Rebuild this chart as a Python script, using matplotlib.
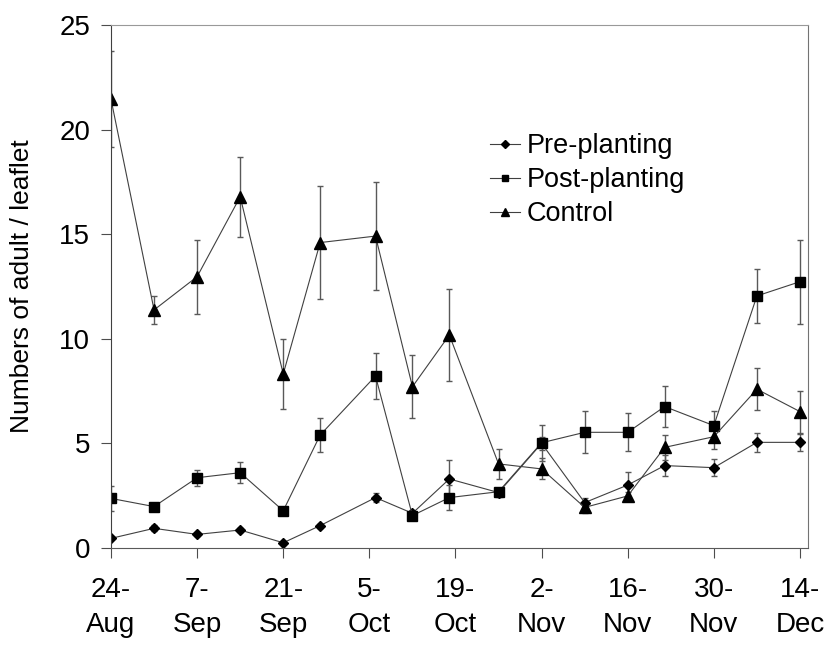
import matplotlib
matplotlib.use('Agg')
import matplotlib.pyplot as plt

plt.rcParams['font.family'] = ['Liberation Sans', 'DejaVu Sans']

# sampling days, counted from 24 Aug
sample_day = [0, 7, 14, 21, 28, 34, 43, 49, 55, 63, 70, 77, 84, 90, 98, 105, 112]

pre_mean = [0.46, 0.94, 0.65, 0.86, 0.25, 1.07, 2.41, 1.66, 3.30, 2.65, 5.0,
            2.17, 3.01, 3.94, 3.84, 5.05, 5.05]
pre_err = [0.05, 0.15, 0.08, 0.08, 0.05, 0.1, 0.2, 0.15, 0.9, 0.2, 0.3,
           0.2, 0.6, 0.5, 0.4, 0.45, 0.4]

post_mean = [2.37, 1.98, 3.36, 3.60, 1.78, 5.40, 8.22, 1.55, 2.41, 2.69, 5.03,
             5.53, 5.53, 6.76, 5.85, 12.05, 12.73]
post_err = [0.6, 0.1, 0.38, 0.5, 0.1, 0.8, 1.1, 0.15, 0.6, 0.2, 0.85,
            1.0, 0.9, 0.98, 0.7, 1.3, 2.0]

ctrl_mean = [21.45, 11.38, 12.97, 16.79, 8.32, 14.60, 14.91, 7.71, 10.18, 4.02, 3.78,
             1.94, 2.49, 4.81, 5.32, 7.59, 6.52]
ctrl_err = [2.3, 0.67, 1.77, 1.9, 1.68, 2.7, 2.6, 1.5, 2.2, 0.7, 0.5,
            0.25, 0.2, 0.6, 0.6, 1.0, 1.0]

tick_day = [0, 14, 28, 42, 56, 70, 84, 98, 112]
tick_labels = ['24-\nAug', '7-\nSep', '21-\nSep', '5-\nOct', '19-\nOct',
               '2-\nNov', '16-\nNov', '30-\nNov', '14-\nDec']

fig = plt.figure(figsize=(8.34, 6.46), dpi=100)
ax = fig.add_axes([0.1331, 0.1517, 0.8357, 0.8096])

line_kw = dict(color='0.25', lw=0.8, ecolor='0.35', elinewidth=1.0, capsize=2.5,
               capthick=1.0, markerfacecolor='black', markeredgecolor='black')
ax.errorbar(sample_day, pre_mean, yerr=pre_err, marker='D', ms=5.3,
            label='Pre-planting', **line_kw)
ax.errorbar(sample_day, post_mean, yerr=post_err, marker='s', ms=6.5,
            label='Post-planting', **line_kw)
ax.errorbar(sample_day, ctrl_mean, yerr=ctrl_err, marker='^', ms=8,
            label='Control', **line_kw)

ax.set_xlim(0, 113.3)
ax.set_ylim(0, 25)
ax.set_yticks([0, 5, 10, 15, 20, 25])
ax.set_xticks(tick_day)
ax.set_xticklabels(tick_labels, linespacing=1.45)
ax.tick_params(axis='both', direction='out', length=7, width=0.8, color='0.3',
               labelsize=20)
ax.tick_params(axis='x', pad=14)
ax.tick_params(axis='y', pad=8)

for side, col in [('left', '0.25'), ('bottom', '0.35'), ('right', '0.45'), ('top', '0.6')]:
    ax.spines[side].set_color(col)
    ax.spines[side].set_linewidth(0.8)

fig.text(22 / 834, 1 - 286 / 646, 'Numbers of adult / leaflet', rotation=90,
         fontsize=19, ha='center', va='center')

handles, labels = ax.get_legend_handles_labels()
handles = [h[0] for h in handles]
leg = fig.legend(handles, labels, loc='upper left', bbox_to_anchor=(490 / 834, 1 - 133 / 646),
                 frameon=False, fontsize=19.5, handlelength=1.1, handletextpad=0.25,
                 labelspacing=0.3, borderpad=0, borderaxespad=0, markerscale=0.7)

fig.savefig('out.png', dpi=100)
